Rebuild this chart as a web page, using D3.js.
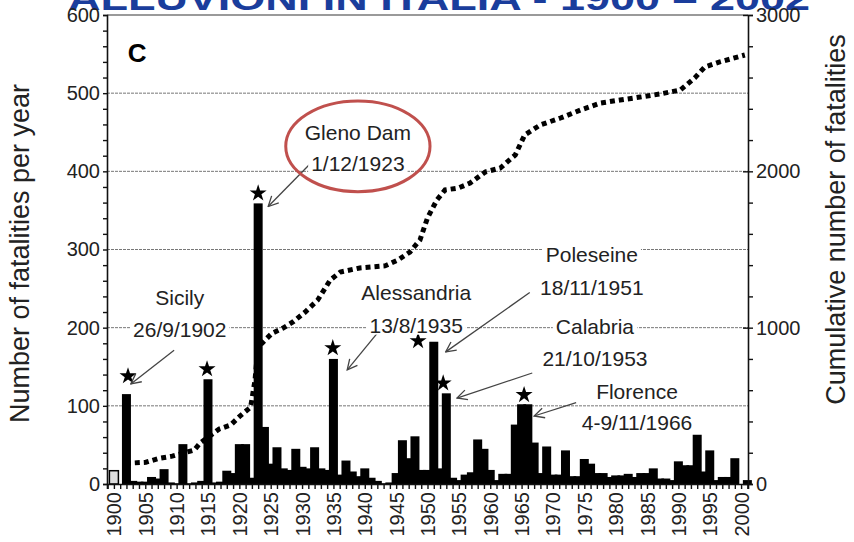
<!DOCTYPE html>
<html>
<head>
<meta charset="utf-8">
<script src="https://cdn.jsdelivr.net/npm/d3@7"></script>
<style>
  body { margin: 0; background: #fff; }
  svg { display: block; }
  .lbl { font-family: "Liberation Sans", Arial, sans-serif; }
</style>
</head>
<body>
<div id="chart"></div>
<script>
// yearly fatalities
const years = [1900, 1902, 1903, 1904, 1905, 1906, 1907, 1908, 1909, 1910, 1911, 1912, 1913, 1914, 1915,
  1916, 1917, 1918, 1919, 1920, 1921, 1922, 1923, 1924, 1925, 1926, 1927, 1928, 1929, 1930,
  1931, 1932, 1933, 1934, 1935, 1936, 1937, 1938, 1939, 1940, 1941, 1942, 1943, 1944, 1945,
  1946, 1947, 1948, 1949, 1950, 1951, 1952, 1953, 1954, 1955, 1956, 1957, 1958, 1959, 1960,
  1961, 1962, 1963, 1964, 1965, 1966, 1967, 1968, 1969, 1970, 1971, 1972, 1973, 1974, 1975,
  1976, 1977, 1978, 1979, 1980, 1981, 1982, 1983, 1984, 1985, 1986, 1987, 1988, 1989, 1990,
  1991, 1992, 1993, 1994, 1995, 1996, 1997, 1998, 1999, 2001];
const deaths = [17, 115, 4, 3, 3, 9, 7, 19, 2, 1, 51, 1, 2, 4, 134,
  2, 3, 17, 14, 51, 51, 8, 359, 73, 26, 47, 20, 18, 45, 22,
  20, 47, 20, 18, 160, 12, 30, 16, 10, 20, 8, 4, 1, 2, 14,
  56, 33, 61, 18, 18, 182, 20, 116, 8, 5, 12, 15, 57, 45, 18,
  5, 13, 13, 76, 102, 102, 53, 14, 48, 12, 12, 43, 10, 10, 32,
  26, 14, 14, 9, 11, 11, 13, 9, 14, 14, 20, 7, 7, 5, 29,
  24, 24, 63, 16, 43, 5, 9, 9, 33, 5];

// cumulative curve
const cumYears = [1901.9, 1905.1, 1907.2, 1909.3, 1912.8, 1913.8, 1916.8, 1918.6, 1920.1, 1921.8,
  1922.5, 1923.0, 1923.6, 1925.2, 1926.9, 1928.6, 1930.5, 1932.5, 1934.5, 1936.1, 1939.2,
  1943.2, 1945.3, 1947.2, 1948.8, 1950.0, 1951.5, 1952.8, 1954.9, 1956.8, 1959.2, 1961.6,
  1964.0, 1965.5, 1968.0, 1971.2, 1974.4, 1977.6, 1980.7, 1983.9, 1987.1, 1990.3, 1992.6,
  1994.2, 1996.6, 2000.6];
const cumValues = [132, 139, 164, 178, 217, 264, 352, 377, 435, 491,
  665, 890, 900, 964, 996, 1038, 1100, 1177, 1305, 1356, 1382,
  1395, 1433, 1484, 1561, 1702, 1817, 1881, 1893, 1925, 1996, 2021,
  2105, 2233, 2297, 2341, 2392, 2437, 2456, 2475, 2495, 2520, 2597,
  2667, 2700, 2744];

// stars marking the events
const starYears = [1902.25, 1914.85, 1923, 1934.9, 1948.5, 1952.5, 1965.4];
const starValues = [138, 147, 372, 174, 183, 129, 114];

// annotations: label lines, label centre (year, value of each line), arrow from / to
const notes = [
  { lines: ["Gleno Dam", "1/12/1923"], x: 1938.9, y: [449, 410], from: [1932.2, 417], to: [1924.6, 355] },
  { lines: ["Sicily", "26/9/1902"], x: 1910.5, y: [238, 197], from: [1909.6, 171], to: [1902.7, 128] },
  { lines: ["Alessandria", "13/8/1935"], x: 1948.2, y: [245, 203], from: [1942.1, 194], to: [1937.2, 146] },
  { lines: ["Poleseine", "18/11/1951"], x: 1976.2, y: [293, 251], from: [1966.3, 245], to: [1952.9, 169] },
  { lines: ["Calabria", "21/10/1953"], x: 1976.7, y: [201, 161], from: [1966.7, 142], to: [1954.7, 110] },
  { lines: ["Florence", "4-9/11/1966"], x: 1983.4, y: [118, 78], from: [1973.7, 104], to: [1967.0, 87] }
];

const yTicks = [0, 100, 200, 300, 400, 500, 600];
const y2Ticks = [0, 1000, 2000, 3000];
const xLabels = d3.range(1900, 2001, 5);

const W = 854, H = 542;
const margin = { top: 15, right: 106, bottom: 58, left: 107 };

const svg = d3.select("#chart").append("svg")
  .attr("width", W).attr("height", H);

const x = d3.scaleLinear().domain([1898.9, 2001.1]).range([margin.left, W - margin.right]);
const y = d3.scaleLinear().domain([0, 600]).range([H - margin.bottom, margin.top]);
const y2 = d3.scaleLinear().domain([0, 3000]).range([H - margin.bottom, margin.top]);

// clipped title at the very top
svg.append("text")
  .attr("x", 68).attr("y", 10)
  .attr("textLength", 742).attr("lengthAdjust", "spacingAndGlyphs")
  .style("font-family", "Liberation Sans, Arial, sans-serif")
  .style("font-weight", "bold").style("font-size", "34px")
  .attr("fill", "#1a3d9c")
  .text("ALLUVIONI IN ITALIA - 1900 – 2002");

// grid
svg.append("g").selectAll("line").data(yTicks.slice(1, 6)).join("line")
  .attr("x1", x.range()[0]).attr("x2", x.range()[1])
  .attr("y1", d => y(d)).attr("y2", d => y(d))
  .attr("stroke", "#777").attr("stroke-width", 1).attr("stroke-dasharray", "3,1");

// top frame line
svg.append("line")
  .attr("x1", x.range()[0]).attr("x2", x.range()[1])
  .attr("y1", y(600)).attr("y2", y(600))
  .attr("stroke", "#9a9a9a").attr("stroke-width", 2);

// bars
svg.append("g").selectAll("rect").data(years).join("rect")
  .attr("x", d => x(d) - 4.5)
  .attr("width", 9)
  .attr("y", (d, i) => y(deaths[i]))
  .attr("height", (d, i) => y(0) - y(deaths[i]))
  .attr("fill", d => d === 1900 ? "#ddd" : "#000")
  .attr("stroke", "#000").attr("stroke-width", d => d === 1900 ? 1.5 : 0);

// cumulative dotted line
const line = d3.line().x(d => x(d[0])).y(d => y2(d[1]));
svg.append("path")
  .datum(cumYears.map((d, i) => [d, cumValues[i]]))
  .attr("d", line)
  .attr("fill", "none").attr("stroke", "#000")
  .attr("stroke-width", 5).attr("stroke-dasharray", "5,4");

// stars
svg.append("g").selectAll("path").data(starYears).join("path")
  .attr("d", d3.symbol(d3.symbolStar, 90))
  .attr("transform", (d, i) => `translate(${x(d)},${y(starValues[i])})`)
  .attr("fill", "#000");

// axes
const left = svg.append("g").attr("transform", `translate(${x.range()[0]},0)`)
  .call(d3.axisLeft(y).tickValues(d3.range(0, 601, 20)).tickSize(4)
    .tickFormat(d => yTicks.includes(d) ? d : ""));
const right = svg.append("g").attr("transform", `translate(${x.range()[1]},0)`)
  .call(d3.axisRight(y2).tickValues(d3.range(0, 3001, 200)).tickSize(5)
    .tickFormat(d => y2Ticks.includes(d) ? d : ""));
const bottom = svg.append("g").attr("transform", `translate(0,${y(0)})`)
  .call(d3.axisBottom(x).tickValues(d3.range(1899, 2002, 1)).tickSize(5)
    .tickFormat(d => xLabels.includes(d) ? d : ""));

[left, right, bottom].forEach(g => {
  g.select(".domain").attr("stroke", "#111").attr("stroke-width", 1.6);
  g.selectAll(".tick line").attr("stroke", "#111").attr("stroke-width", 1.4);
  g.selectAll(".tick text").attr("class", "lbl").attr("fill", "#222").style("font-size", "20px");
});
right.selectAll(".tick line").attr("x1", d => y2Ticks.includes(d) ? -5 : 0);
bottom.selectAll(".tick text")
  .attr("transform", "rotate(-90)")
  .attr("text-anchor", "end")
  .attr("x", -8).attr("y", 0).attr("dy", "0.35em").attr("dx", 0);

// axis titles
svg.append("text").attr("class", "lbl")
  .attr("transform", `translate(29,${(y(0) + y(600)) / 2 + 4}) rotate(-90)`)
  .attr("text-anchor", "middle").style("font-size", "27px").attr("fill", "#222")
  .text("Number of fatalities per year");
svg.append("text").attr("class", "lbl")
  .attr("transform", `translate(845,${(y(0) + y(600)) / 2 - 30}) rotate(-90)`)
  .attr("text-anchor", "middle").style("font-size", "27px").attr("fill", "#222")
  .text("Cumulative number of fatalities");

// panel letter
svg.append("text")
  .attr("x", x(1903.7)).attr("y", y(540))
  .attr("text-anchor", "middle")
  .style("font-family", "Liberation Sans, Arial, sans-serif")
  .style("font-weight", "bold").style("font-size", "26px")
  .text("C");

// annotation arrows and labels
svg.append("defs").append("marker")
  .attr("id", "head").attr("viewBox", "0 0 12 12")
  .attr("refX", 11).attr("refY", 6)
  .attr("markerWidth", 12).attr("markerHeight", 12)
  .attr("markerUnits", "userSpaceOnUse").attr("orient", "auto")
  .append("path").attr("d", "M1,1 L11,6 L1,11")
  .attr("fill", "none").attr("stroke", "#444").attr("stroke-width", 1.3);

const ann = svg.append("g");
notes.forEach(n => {
  ann.append("line")
    .attr("x1", x(n.from[0])).attr("y1", y(n.from[1]))
    .attr("x2", x(n.to[0])).attr("y2", y(n.to[1]))
    .attr("stroke", "#444").attr("stroke-width", 1.3)
    .attr("marker-end", "url(#head)");
  n.lines.forEach((t, k) => {
    const g = ann.append("g");
    const txt = g.append("text").attr("class", "lbl")
      .attr("x", x(n.x)).attr("y", y(n.y[k]))
      .attr("dy", "0.35em").attr("text-anchor", "middle")
      .style("font-size", "21px").attr("fill", "#222")
      .text(t);
    const b = txt.node().getBBox();
    g.insert("rect", "text")
      .attr("x", b.x - 3).attr("y", b.y + 2)
      .attr("width", b.width + 6).attr("height", b.height - 4)
      .attr("fill", "#fff");
  });
});

// red ellipse round the Gleno Dam label
svg.append("ellipse")
  .attr("cx", x(1938.9)).attr("cy", y(432))
  .attr("rx", x(1938.9) - x(1927.4)).attr("ry", y(374) - y(432))
  .attr("fill", "none").attr("stroke", "#c0504d").attr("stroke-width", 3);
</script>
</body>
</html>
